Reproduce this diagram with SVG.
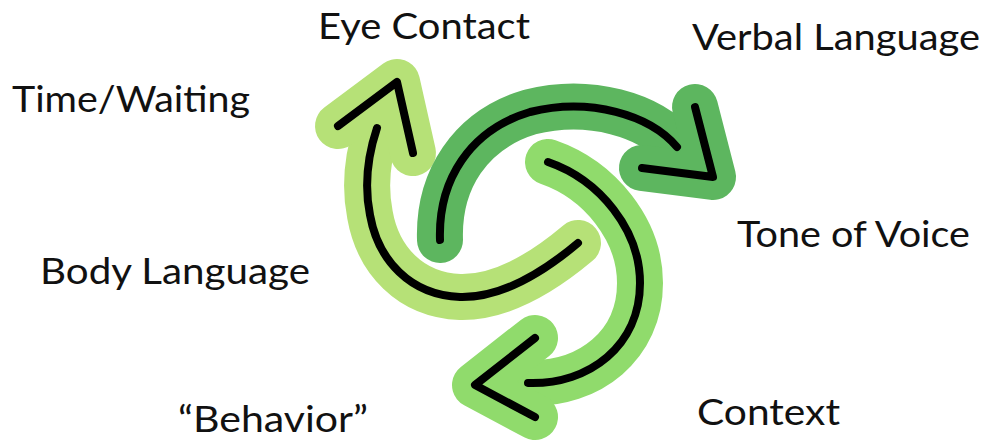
<svg xmlns="http://www.w3.org/2000/svg" width="993" height="440" viewBox="0 0 993 440">
<style>
.lbl{font-family:Lato,"Open Sans","Liberation Sans",sans-serif;font-size:37px;fill:#111;}
.band{fill:none;stroke-linecap:round;stroke-linejoin:round;stroke-width:46;}
.core{fill:none;stroke:#000;stroke-width:8;stroke-linecap:round;stroke-linejoin:round;}
.a1{stroke:#b6e177;}
.a2{stroke:#5db65f;}
.a3{stroke:#90db6c;}
</style>
<rect width="993" height="440" fill="#fff"/>
<g id="connectors">
<g id="arrow-light">
<path class="band a1" d="M578,243 C540,275 500,298 460,297 C410,295 378,260 370,215 C364,185 368,155 377,128"/>
<path class="band a1" d="M338,126 L397,82 L413,153"/>
</g>
<g id="arrow-dark">
<path class="band a2" d="M440,240 C438,180 470,130 530,112 C590,97 650,115 677,147"/>
<path class="band a2" d="M695,107 L713,177 L642,168"/>
</g>
<g id="arrow-mid">
<path class="band a3" d="M548,162 C600,180 640,230 640,283 C640,345 590,385 528,383"/>
<path class="band a3" d="M535,338 L475,385 L535,417"/>
</g>
<path class="core" d="M578,243 C540,275 500,298 460,297 C410,295 378,260 370,215 C364,185 368,155 377,128"/>
<path class="core" d="M338,126 L397,82 L413,153"/>
<path class="core" d="M440,240 C438,180 470,130 530,112 C590,97 650,115 677,147"/>
<path class="core" d="M695,107 L713,177 L642,168"/>
<path class="core" d="M548,162 C600,180 640,230 640,283 C640,345 590,385 528,383"/>
<path class="core" d="M535,338 L475,385 L535,417"/>
</g>
<g id="eye-contact"><text class="lbl" x="318" y="39" textLength="212" lengthAdjust="spacingAndGlyphs">Eye Contact</text></g>
<g id="verbal-language"><text class="lbl" x="692" y="50" textLength="288" lengthAdjust="spacingAndGlyphs">Verbal Language</text></g>
<g id="time-waiting"><text class="lbl" x="12" y="112" textLength="238" lengthAdjust="spacingAndGlyphs">Time/Waiting</text></g>
<g id="tone-of-voice"><text class="lbl" x="737" y="247" textLength="233" lengthAdjust="spacingAndGlyphs">Tone of Voice</text></g>
<g id="body-language"><text class="lbl" x="40" y="284" textLength="270" lengthAdjust="spacingAndGlyphs">Body Language</text></g>
<g id="context"><text class="lbl" x="697" y="425" textLength="143" lengthAdjust="spacingAndGlyphs">Context</text></g>
<g id="behavior"><text class="lbl" x="178" y="432" textLength="190" lengthAdjust="spacingAndGlyphs">“Behavior”</text></g>
</svg>
